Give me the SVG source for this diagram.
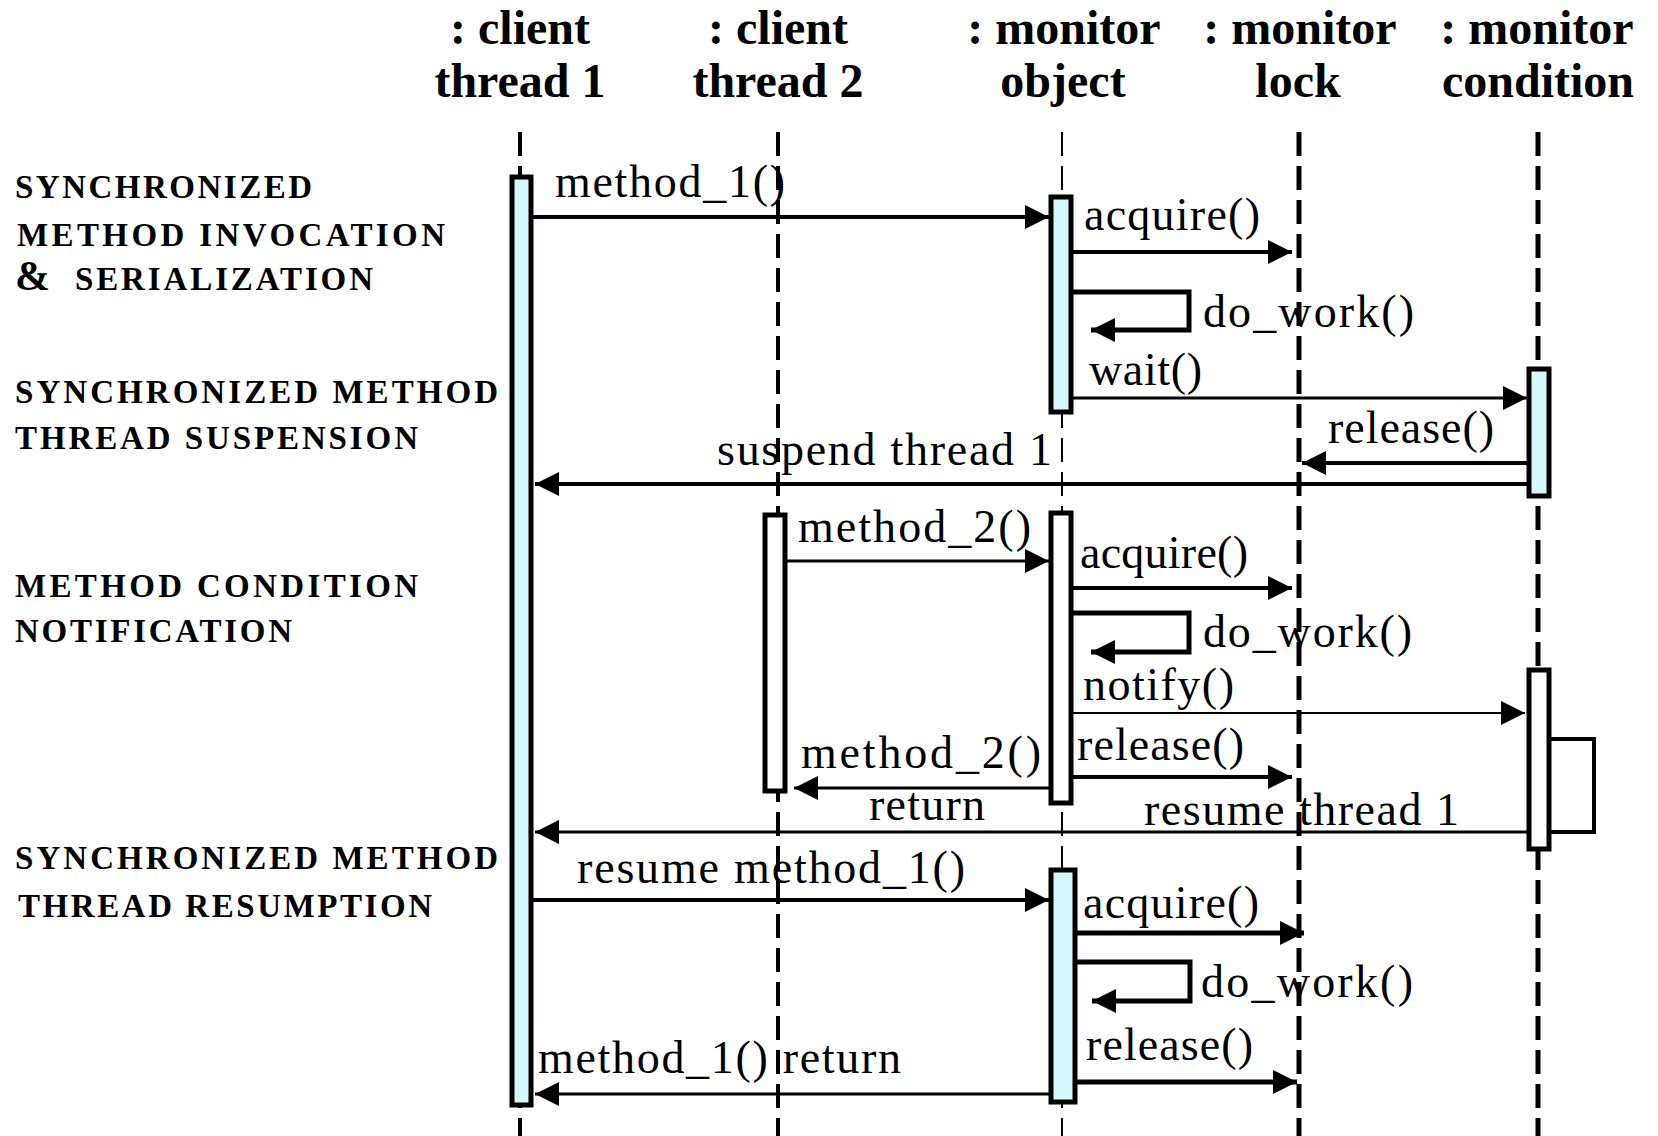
<svg xmlns="http://www.w3.org/2000/svg" width="1658" height="1136" viewBox="0 0 1658 1136">
<style>
.hdr{font-family:"Liberation Serif","Times New Roman",serif;font-weight:bold;font-size:48px;text-anchor:middle;fill:#000}
.sec{font-family:"Liberation Serif","Times New Roman",serif;font-weight:bold;font-size:33px;fill:#000}
.msg{font-family:"Liberation Serif","Times New Roman",serif;font-size:46px;fill:#000}
.life{stroke:#000;stroke-dasharray:24 10;fill:none}
.act{stroke:#000;stroke-width:5}
.cy{fill:#d4f8fb}
.wh{fill:#fff}
.m{stroke:#000;fill:none;marker-end:url(#ah)}
</style>
<defs>
<marker id="ah" markerUnits="userSpaceOnUse" markerWidth="26" markerHeight="24" refX="24" refY="12" orient="auto">
<path d="M0,0 L24,12 L0,24 z" fill="#000"/>
</marker>
</defs>
<rect width="1658" height="1136" fill="#fff"/>

<g id="lifelines">
<line class="life" x1="520" y1="132" x2="520" y2="1136" stroke-width="4"/>
<line class="life" x1="778" y1="132" x2="778" y2="1136" stroke-width="4"/>
<line class="life" x1="1062" y1="132" x2="1062" y2="1136" stroke-width="2"/>
<line class="life" x1="1299" y1="132" x2="1299" y2="1136" stroke-width="5"/>
<line class="life" x1="1538" y1="132" x2="1538" y2="1136" stroke-width="5"/>
</g>

<g id="client-thread-1">
<text class="hdr" x="520" y="44">: client</text>
<text class="hdr" x="520" y="97">thread 1</text>
<rect class="act cy" x="512" y="177" width="19" height="928"/>
</g>
<g id="client-thread-2">
<text class="hdr" x="778" y="44">: client</text>
<text class="hdr" x="778" y="97">thread 2</text>
<rect class="act wh" x="765" y="515" width="20" height="276"/>
</g>
<g id="monitor-object">
<text class="hdr" x="1064" y="44">: monitor</text>
<text class="hdr" x="1063" y="97">object</text>
<rect class="act cy" x="1051" y="197" width="20" height="215"/>
<rect class="act wh" x="1051" y="513" width="20" height="290"/>
<rect class="act cy" x="1051" y="870" width="24" height="232"/>
</g>
<g id="monitor-lock">
<text class="hdr" x="1300" y="44">: monitor</text>
<text class="hdr" x="1298" y="97">lock</text>
</g>
<g id="monitor-condition">
<text class="hdr" x="1537" y="44">: monitor</text>
<text class="hdr" x="1538" y="97">condition</text>
<rect class="act cy" x="1529" y="369" width="20" height="127"/>
<rect class="act wh" x="1529" y="670" width="20" height="179"/>
</g>

<g id="section-labels">
<text class="sec" x="15" y="198" textLength="297" lengthAdjust="spacing">SYNCHRONIZED</text>
<text class="sec" x="17" y="246" textLength="428" lengthAdjust="spacing">METHOD  INVOCATION</text>
<text class="sec" x="15" y="290" style="font-size:42px">&amp;</text>
<text class="sec" x="75" y="290" textLength="298" lengthAdjust="spacing">SERIALIZATION</text>
<text class="sec" x="15" y="403" textLength="483" lengthAdjust="spacing">SYNCHRONIZED  METHOD</text>
<text class="sec" x="15" y="449" textLength="403" lengthAdjust="spacing">THREAD  SUSPENSION</text>
<text class="sec" x="15" y="597" textLength="403" lengthAdjust="spacing">METHOD  CONDITION</text>
<text class="sec" x="15" y="642" textLength="277" lengthAdjust="spacing">NOTIFICATION</text>
<text class="sec" x="15" y="869" textLength="483" lengthAdjust="spacing">SYNCHRONIZED  METHOD</text>
<text class="sec" x="18" y="917" textLength="414" lengthAdjust="spacing">THREAD  RESUMPTION</text>
</g>

<g id="connectors">
<line class="m" x1="531" y1="217" x2="1049" y2="217" stroke-width="4"/>
<line class="m" x1="1071" y1="252" x2="1292" y2="252" stroke-width="4"/>
<path class="m" d="M1071,292 H1189 V330 H1091" stroke-width="5"/>
<line class="m" x1="1071" y1="398" x2="1527" y2="398" stroke-width="3"/>
<line class="m" x1="1529" y1="463" x2="1302" y2="463" stroke-width="4"/>
<line class="m" x1="1529" y1="484" x2="535" y2="484" stroke-width="4"/>
<line class="m" x1="787" y1="561" x2="1049" y2="561" stroke-width="3"/>
<line class="m" x1="1071" y1="588" x2="1292" y2="588" stroke-width="4"/>
<path class="m" d="M1071,613 H1189 V652 H1091" stroke-width="5"/>
<line class="m" x1="1071" y1="713" x2="1525" y2="713" stroke-width="2"/>
<line class="m" x1="1071" y1="777" x2="1292" y2="777" stroke-width="4"/>
<line class="m" x1="1051" y1="788" x2="794" y2="788" stroke-width="3"/>
<path d="M1549,739 H1594 V832 H1549" stroke="#000" stroke-width="4" fill="none"/>
<line class="m" x1="1529" y1="832" x2="535" y2="832" stroke-width="3"/>
<line class="m" x1="531" y1="900" x2="1049" y2="900" stroke-width="4"/>
<line class="m" x1="1075" y1="933" x2="1304" y2="933" stroke-width="5"/>
<path class="m" d="M1075,962 H1190 V1001 H1092" stroke-width="5"/>
<line class="m" x1="1075" y1="1082" x2="1297" y2="1082" stroke-width="5"/>
<line class="m" x1="1051" y1="1094" x2="535" y2="1094" stroke-width="3"/>
</g>

<g id="message-labels">
<text class="msg" x="555" y="197" textLength="230" lengthAdjust="spacing">method_1()</text>
<text class="msg" x="1084" y="230" textLength="176" lengthAdjust="spacing">acquire()</text>
<text class="msg" x="1203" y="327" textLength="211" lengthAdjust="spacing">do_work()</text>
<text class="msg" x="1089" y="385" textLength="113" lengthAdjust="spacing">wait()</text>
<text class="msg" x="1328" y="443" textLength="166" lengthAdjust="spacing">release()</text>
<text class="msg" x="717" y="465" textLength="335" lengthAdjust="spacing">suspend thread 1</text>
<text class="msg" x="798" y="542" textLength="233" lengthAdjust="spacing">method_2()</text>
<text class="msg" x="1080" y="568" textLength="168" lengthAdjust="spacing">acquire()</text>
<text class="msg" x="1203" y="647" textLength="209" lengthAdjust="spacing">do_work()</text>
<text class="msg" x="1083" y="700" textLength="151" lengthAdjust="spacing">notify()</text>
<text class="msg" x="1077" y="760" textLength="167" lengthAdjust="spacing">release()</text>
<text class="msg" x="801" y="768" textLength="240" lengthAdjust="spacing">method_2()</text>
<text class="msg" x="869" y="820" textLength="116" lengthAdjust="spacing">return</text>
<text class="msg" x="1144" y="825" textLength="315" lengthAdjust="spacing">resume thread 1</text>
<text class="msg" x="577" y="883" textLength="388" lengthAdjust="spacing">resume method_1()</text>
<text class="msg" x="1083" y="918" textLength="176" lengthAdjust="spacing">acquire()</text>
<text class="msg" x="1201" y="997" textLength="212" lengthAdjust="spacing">do_work()</text>
<text class="msg" x="1086" y="1060" textLength="167" lengthAdjust="spacing">release()</text>
<text class="msg" x="538" y="1073" textLength="363" lengthAdjust="spacing">method_1() return</text>
</g>
</svg>
